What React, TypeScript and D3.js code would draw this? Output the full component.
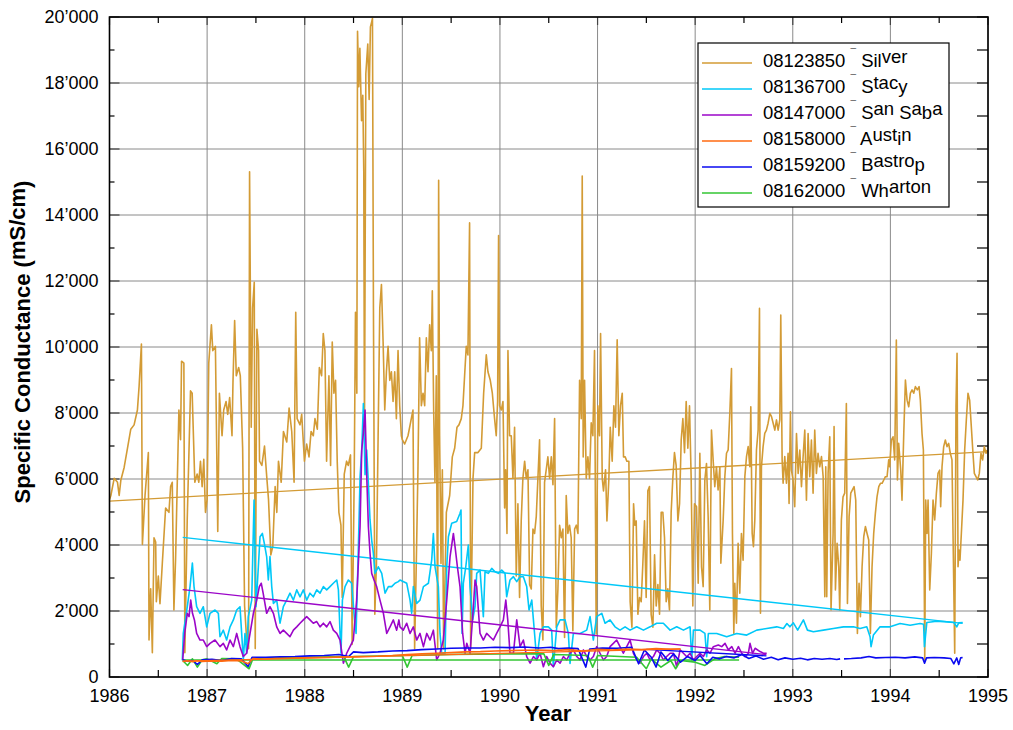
import React from "react";
import * as d3 from "d3";

type Pt = [number, number | null];

const xTickYears = [1986, 1987, 1988, 1989, 1990, 1991, 1992, 1993, 1994, 1995];
const yTickValues = [0, 2000, 4000, 6000, 8000, 10000, 12000, 14000, 16000, 18000, 20000];

const seriesCodes = ["08123850", "08136700", "08147000", "08158000", "08159200", "08162000"];
const seriesNames = ["Silver", "Stacy", "San Saba", "Austin", "Bastrop", "Wharton"];
const seriesColors = ["#d39b35", "#00c8f8", "#9b06c8", "#ff6a10", "#0a0af0", "#33c633"];

const silverData: Pt[] = [
  [1986.000,5380],[1986.014,5500],[1986.048,6020],[1986.082,5900],[1986.099,5500],[1986.116,5960],[1986.150,6350],[1986.184,6930],[1986.218,7510],[1986.252,7640],[1986.286,8090],[1986.303,8800],[1986.327,10090],[1986.337,4020],[1986.364,5500],[1986.398,6800],[1986.405,1120],[1986.422,2670],[1986.439,735],[1986.456,4220],[1986.473,4090],[1986.480,2280],[1986.500,3060],[1986.517,2220],[1986.541,3440],[1986.575,5120],[1986.609,4990],[1986.626,5770],[1986.643,5900],[1986.660,2030],[1986.677,3570],[1986.687,4930],[1986.711,8090],[1986.728,7190],[1986.738,9570],[1986.762,9510],[1986.772,735],[1986.796,4730],[1986.830,8670],[1986.847,8600],[1986.874,5900],[1986.898,6150],[1986.915,5900],[1986.932,6540],[1986.949,5770],[1986.966,6600],[1986.983,4990],
  [1987.000,5380],[1987.017,9510],[1987.044,10670],[1987.058,9890],[1987.085,10020],[1987.109,4410],[1987.126,8600],[1987.153,7310],[1987.170,8090],[1987.194,8350],[1987.211,7960],[1987.231,8470],[1987.255,7310],[1987.265,8930],[1987.282,10800],[1987.299,9130],[1987.323,9380],[1987.340,9130],[1987.364,6930],[1987.384,2150],[1987.408,990],[1987.425,860],[1987.435,15310],[1987.452,7570],[1987.466,11180],[1987.483,11960],[1987.493,860],[1987.510,10540],[1987.527,9890],[1987.537,6540],[1987.561,6410],[1987.588,7000],[1987.612,6020],[1987.629,5380],[1987.653,3700],[1987.673,3960],[1987.697,5770],[1987.714,4990],[1987.731,6540],[1987.759,5900],[1987.782,7440],[1987.816,7120],[1987.840,8150],[1987.867,7440],[1987.891,5900],[1987.908,11050],[1987.922,7830],[1987.952,7640],[1987.969,7960],[1987.997,6540],
  [1988.020,7060],[1988.044,6670],[1988.065,7440],[1988.088,7310],[1988.105,7830],[1988.129,7510],[1988.150,9380],[1988.173,9130],[1988.190,10410],[1988.207,9890],[1988.224,6540],[1988.248,9130],[1988.265,6410],[1988.282,10150],[1988.299,8600],[1988.316,8990],[1988.333,6540],[1988.350,4990],[1988.371,4600],[1988.384,2410],[1988.405,6150],[1988.429,6540],[1988.446,6410],[1988.469,6730],[1988.486,990],[1988.507,6020],[1988.520,11050],[1988.534,8600],[1988.541,19570],[1988.554,17890],[1988.565,19050],[1988.582,16860],[1988.595,17630],[1988.605,15310],[1988.612,7310],[1988.626,18280],[1988.646,19180],[1988.660,17500],[1988.673,19700],[1988.684,19830],[1988.694,19960],[1988.704,11180],[1988.718,1900],[1988.735,3440],[1988.752,7310],[1988.769,11180],[1988.786,11890],[1988.803,10150],[1988.820,8090],[1988.837,9250],[1988.854,10020],[1988.871,8990],[1988.888,9250],[1988.905,8350],[1988.922,9250],[1988.939,7830],[1988.956,9890],[1988.973,8220],[1988.990,7310],
  [1989.000,7190],[1989.024,7060],[1989.058,7310],[1989.092,7830],[1989.109,8090],[1989.126,860],[1989.143,3440],[1989.160,6280],[1989.177,10280],[1989.195,8220],[1989.212,8600],[1989.229,8220],[1989.246,10280],[1989.263,9250],[1989.280,10670],[1989.297,9890],[1989.307,11700],[1989.321,8090],[1989.334,5900],[1989.348,9130],[1989.362,860],[1989.372,15050],[1989.382,7310],[1989.396,3440],[1989.410,6280],[1989.423,860],[1989.451,4990],[1989.485,5500],[1989.512,6670],[1989.536,6930],[1989.560,7570],[1989.580,7640],[1989.604,7830],[1989.621,8220],[1989.638,9130],[1989.655,10020],[1989.672,9760],[1989.689,13760],[1989.700,860],[1989.724,6020],[1989.741,6800],[1989.775,6800],[1989.809,6930],[1989.833,8600],[1989.860,9760],[1989.877,9250],[1989.901,8990],[1989.922,8600],[1989.945,7830],[1989.962,7310],[1989.976,8350],[1989.986,13380],[1989.997,8220],
  [1990.014,8090],[1990.031,8350],[1990.048,5120],[1990.058,6280],[1990.072,4350],[1990.082,9890],[1990.099,7310],[1990.116,7310],[1990.133,6020],[1990.150,7570],[1990.167,3060],[1990.184,5250],[1990.201,2410],[1990.218,4730],[1990.235,6020],[1990.253,6540],[1990.270,6020],[1990.287,6280],[1990.304,2800],[1990.321,2670],[1990.338,4480],[1990.355,4350],[1990.372,4860],[1990.389,6020],[1990.406,7190],[1990.423,2150],[1990.440,1120],[1990.457,5900],[1990.474,6280],[1990.491,6670],[1990.509,6020],[1990.526,6670],[1990.543,5830],[1990.560,7830],[1990.577,1500],[1990.594,2670],[1990.611,4600],[1990.628,4220],[1990.645,4480],[1990.662,1200],[1990.679,5500],[1990.696,4350],[1990.713,4600],[1990.730,4220],[1990.747,1400],[1990.765,4480],[1990.782,4600],[1990.799,4350],[1990.816,8990],[1990.833,7830],[1990.843,15180],[1990.853,6670],[1990.867,8990],[1990.884,6020],[1990.901,6670],[1990.918,6020],[1990.935,7700],[1990.952,7310],[1990.969,9890],[1990.986,1300],
  [1991.003,8220],[1991.020,7310],[1991.031,10410],[1991.048,6020],[1991.061,5640],[1991.082,6280],[1991.096,4730],[1991.116,6020],[1991.130,7570],[1991.150,6540],[1991.167,8220],[1991.184,7570],[1991.201,10220],[1991.218,7310],[1991.235,8220],[1991.253,8600],[1991.266,6670],[1991.283,6670],[1991.300,6540],[1991.321,6540],[1991.334,2280],[1991.352,1510],[1991.369,5250],[1991.382,4600],[1991.396,4730],[1991.413,1900],[1991.430,2410],[1991.447,2280],[1991.464,3440],[1991.481,4730],[1991.498,2410],[1991.515,5640],[1991.532,5770],[1991.549,1900],[1991.567,1510],[1991.584,3700],[1991.601,2150],[1991.618,2800],[1991.635,1900],[1991.652,4990],[1991.669,4990],[1991.686,4220],[1991.703,2280],[1991.720,2670],[1991.737,2030],[1991.754,4990],[1991.771,6020],[1991.788,6800],[1991.805,6410],[1991.823,4730],[1991.840,5250],[1991.857,7190],[1991.874,7830],[1991.891,6800],[1991.908,8350],[1991.925,6930],[1991.942,8220],[1991.959,6020],[1991.976,2150],[1991.993,5250],
  [1992.014,5160],[1992.031,2840],[1992.048,6780],[1992.065,3340],[1992.082,2740],[1992.099,5970],[1992.116,6470],[1992.133,4860],[1992.150,2030],[1992.167,7480],[1992.184,6580],[1992.201,5770],[1992.218,6370],[1992.235,5670],[1992.253,6370],[1992.263,3450],[1992.287,4760],[1992.304,6070],[1992.321,6780],[1992.338,6880],[1992.355,7990],[1992.372,9350],[1992.382,4350],[1992.396,1320],[1992.406,2840],[1992.423,1630],[1992.440,4050],[1992.457,2540],[1992.474,4350],[1992.491,3540],[1992.509,6070],[1992.526,6680],[1992.543,6980],[1992.560,6370],[1992.570,8190],[1992.584,4350],[1992.597,3950],[1992.611,4760],[1992.628,6880],[1992.645,7480],[1992.659,11170],[1992.669,1930],[1992.679,6370],[1992.696,6980],[1992.713,7380],[1992.730,7480],[1992.747,7690],[1992.765,7990],[1992.782,7890],[1992.799,7690],[1992.816,7480],[1992.833,7790],[1992.850,7480],[1992.867,7790],[1992.877,10970],[1992.891,6580],[1992.901,5870],[1992.918,6680],[1992.935,5870],[1992.952,6780],[1992.962,5260],[1992.976,8040],[1992.986,6270],
  [1993.003,5970],[1993.020,5160],[1993.038,7380],[1993.055,6170],[1993.072,6880],[1993.089,5770],[1993.106,6680],[1993.123,7480],[1993.140,5360],[1993.157,7380],[1993.174,6070],[1993.191,7180],[1993.208,5570],[1993.225,7480],[1993.242,6170],[1993.259,6780],[1993.276,6370],[1993.294,6680],[1993.311,6070],[1993.328,2430],[1993.338,6370],[1993.348,2430],[1993.362,6170],[1993.379,7280],[1993.392,2030],[1993.413,4350],[1993.423,7590],[1993.437,2640],[1993.454,4050],[1993.471,3340],[1993.481,2030],[1993.498,4760],[1993.515,5460],[1993.532,5570],[1993.549,8290],[1993.560,2230],[1993.577,4860],[1993.594,5570],[1993.611,5670],[1993.628,5770],[1993.645,5360],[1993.662,1320],[1993.679,2840],[1993.693,1830],[1993.710,3340],[1993.727,4250],[1993.744,4560],[1993.761,4350],[1993.778,4150],[1993.795,1320],[1993.812,3340],[1993.829,4350],[1993.846,4960],[1993.863,5460],[1993.881,5770],[1993.898,5870],[1993.915,5870],[1993.932,5970],[1993.949,6070],[1993.966,6070],[1993.983,6580],[1993.993,6370],
  [1994.010,7180],[1994.027,7280],[1994.044,6580],[1994.061,10210],[1994.072,5970],[1994.085,7080],[1994.106,6270],[1994.119,5360],[1994.137,7380],[1994.154,9000],[1994.171,8390],[1994.188,8190],[1994.205,8600],[1994.222,8700],[1994.239,8600],[1994.256,8800],[1994.276,8700],[1994.294,8800],[1994.307,8390],[1994.324,7380],[1994.338,6880],[1994.352,515],[1994.362,5360],[1994.375,4350],[1994.386,5360],[1994.403,2640],[1994.420,3750],[1994.437,5360],[1994.454,4760],[1994.471,5570],[1994.488,6170],[1994.505,6270],[1994.515,5160],[1994.529,6370],[1994.546,6980],[1994.563,7180],[1994.580,6980],[1994.597,7080],[1994.614,6780],[1994.631,6580],[1994.645,3650],[1994.659,720],[1994.672,8190],[1994.683,9810],[1994.693,3340],[1994.703,3850],[1994.713,3540],[1994.727,4350],[1994.744,5360],[1994.761,6880],[1994.778,7790],[1994.795,8600],[1994.812,8390],[1994.829,7590],[1994.846,6780],[1994.860,6170],[1994.877,6070],[1994.894,5970],[1994.911,6170],[1994.928,6780],[1994.945,6580],[1994.962,6980],[1994.980,6780],[1994.990,6880]
];

const stacyData: Pt[] = [
  [1986.746,510],[1986.756,1320],[1986.797,2130],[1986.825,2740],[1986.849,3450],[1986.866,2740],[1986.893,2130],[1986.927,1930],[1986.961,2130],[1986.996,1520],[1987.030,1930],[1987.081,2030],[1987.115,1930],[1987.132,1220],[1987.166,1420],[1987.200,1120],[1987.235,1520],[1987.269,1730],[1987.303,2030],[1987.337,2130],[1987.354,1320],[1987.371,515],[1987.388,1320],[1987.405,720],[1987.422,1830],[1987.457,2330],[1987.481,5360],[1987.501,2130],[1987.525,3340],[1987.542,4250],[1987.566,4350],[1987.586,4050],[1987.610,3650],[1987.627,2940],[1987.644,3650],[1987.662,2740],[1987.679,2230],[1987.713,2330],[1987.747,1630],[1987.781,2130],[1987.815,2330],[1987.849,2540],[1987.884,2330],[1987.918,2640],[1987.952,2430],[1987.986,2640],
  [1988.020,2330],[1988.054,2540],[1988.088,2430],[1988.123,2640],[1988.157,2540],[1988.191,2740],[1988.225,2640],[1988.259,2740],[1988.293,2840],[1988.328,2940],[1988.345,2640],[1988.362,1320],[1988.372,720],[1988.386,2330],[1988.413,2740],[1988.447,2940],[1988.481,2840],[1988.505,1930],[1988.526,1320],[1988.549,3850],[1988.567,6070],[1988.584,6880],[1988.601,8290],[1988.618,6130],[1988.635,6880],[1988.652,5870],[1988.669,4760],[1988.686,4150],[1988.703,3750],[1988.720,3140],[1988.754,3340],[1988.789,3140],[1988.823,2540],[1988.857,2740],[1988.891,2740],[1988.925,2840],[1988.959,2890],
  [1988.976,2940],[1989.045,2840],[1989.079,2330],[1989.096,1930],[1989.113,2740],[1989.147,2230],[1989.181,2330],[1989.216,2740],[1989.267,2840],[1989.301,3550],[1989.318,4350],[1989.335,3340],[1989.369,2740],[1989.386,1320],[1989.403,720],[1989.438,720],[1989.455,3340],[1989.472,4250],[1989.506,4660],[1989.557,4710],[1989.591,4960],[1989.601,5060],[1989.612,1320],[1989.625,2840],[1989.650,3340],[1989.676,4000],[1989.693,2740],[1989.721,1730],[1989.745,2130],[1989.762,3140],[1989.796,3240],[1989.830,1830],[1989.847,3190],[1989.881,3140],[1989.916,3290],[1989.950,3190],[1989.984,3140],
  [1990.018,3240],[1990.052,3140],[1990.069,2430],[1990.103,2940],[1990.138,3040],[1990.172,2890],[1990.206,3040],[1990.240,3040],[1990.274,2740],[1990.298,2030],[1990.326,2330],[1990.343,1730],[1990.360,1120],[1990.377,515],[1990.411,1320],[1990.445,1520],[1990.496,1520],[1990.530,1420],[1990.547,310],[1990.582,1520],[1990.616,1730],[1990.667,1730],[1990.701,1320],[1990.718,410],[1990.752,1320],[1990.821,1320],[1990.889,1420],[1990.923,1830],[1990.957,1120],[1990.991,1830],
  [1991.043,1930],[1991.077,1630],[1991.128,1730],[1991.179,1520],[1991.230,1420],[1991.282,1520],[1991.333,1420],[1991.401,1520],[1991.470,1420],[1991.538,1520],[1991.606,1630],[1991.674,1630],[1991.743,1420],[1991.811,1520],[1991.880,1420],[1991.948,1520],[1991.965,515],[1991.982,1420],
  [1992.050,1420],[1992.100,1320],[1992.118,615],[1992.135,1320],[1992.221,1320],[1992.323,1220],[1992.426,1320],[1992.528,1270],[1992.631,1420],[1992.733,1470],[1992.836,1520],[1992.904,1470],[1992.940,1620],[1992.970,1520],
  [1993.006,1640],[1993.050,1420],[1993.109,1730],[1993.150,1420],[1993.211,1370],[1993.314,1420],[1993.416,1470],[1993.519,1520],[1993.621,1520],[1993.689,1470],[1993.758,1520],[1993.792,1220],[1993.802,920],[1993.826,1270],[1993.894,1520],[1993.997,1520],
  [1994.099,1620],[1994.202,1570],[1994.304,1620],[1994.340,1600],[1994.349,920],[1994.373,1650],[1994.475,1690],[1994.578,1670],[1994.650,1650],[1994.680,1520],[1994.700,1640],[1994.741,1650]
];

const sanSabaData: Pt[] = [
  [1986.750,515],[1986.770,1320],[1986.797,1930],[1986.815,1830],[1986.832,2330],[1986.850,1930],[1986.870,1730],[1986.893,1320],[1986.927,1120],[1986.961,1120],[1986.996,920],[1987.030,1020],[1987.081,1120],[1987.132,920],[1987.166,1020],[1987.200,820],[1987.235,1120],[1987.269,920],[1987.303,1320],[1987.337,920],[1987.371,620],[1987.405,720],[1987.440,1320],[1987.474,1930],[1987.508,2330],[1987.535,2740],[1987.555,2840],[1987.574,2540],[1987.610,1930],[1987.644,2130],[1987.679,1930],[1987.713,1520],[1987.747,1320],[1987.781,1420],[1987.815,1320],[1987.849,1220],[1987.884,1420],[1987.918,1520],[1987.952,1630],[1987.986,1730],
  [1988.020,1830],[1988.054,1730],[1988.088,1630],[1988.123,1680],[1988.157,1520],[1988.191,1630],[1988.225,1520],[1988.259,1680],[1988.293,1420],[1988.328,1320],[1988.362,1120],[1988.396,420],[1988.430,720],[1988.464,920],[1988.498,1120],[1988.532,2330],[1988.567,4560],[1988.584,6880],[1988.601,7400],[1988.618,8090],[1988.635,6130],[1988.652,4560],[1988.669,3750],[1988.686,3140],[1988.710,2940],[1988.737,2740],[1988.771,2330],[1988.806,1930],[1988.840,1320],[1988.874,1520],[1988.908,1730],[1988.942,1420],[1988.965,1730],
  [1988.976,1520],[1989.010,1420],[1989.045,1630],[1989.079,1320],[1989.113,1520],[1989.147,1120],[1989.181,1320],[1989.216,920],[1989.250,1320],[1989.284,1120],[1989.318,1420],[1989.352,515],[1989.386,720],[1989.420,1120],[1989.455,2330],[1989.489,3650],[1989.523,4350],[1989.540,3950],[1989.564,3340],[1989.591,2740],[1989.618,1320],[1989.642,720],[1989.660,1020],[1989.694,720],[1989.728,2130],[1989.745,2940],[1989.762,2740],[1989.796,1320],[1989.830,1120],[1989.864,1320],[1989.898,1220],[1989.932,1120],[1989.966,1320],
  [1990.001,1520],[1990.035,1730],[1990.060,2330],[1990.080,1730],[1990.103,720],[1990.138,720],[1990.172,1730],[1990.206,920],[1990.240,1120],[1990.274,620],[1990.309,420],[1990.343,620],[1990.377,515],[1990.411,720],[1990.445,310],[1990.479,620],[1990.513,420],[1990.547,310],[1990.582,515],[1990.616,420],[1990.650,620],[1990.684,515],[1990.718,720],[1990.752,820],[1990.787,620],[1990.821,515],[1990.855,820],[1990.889,620],[1990.923,515],[1990.957,620],[1990.991,920],
  [1991.025,720],[1991.060,515],[1991.094,620],[1991.128,920],[1991.162,1020],[1991.196,1120],[1991.230,920],[1991.264,720],[1991.299,920],[1991.333,1120],[1991.367,720],[1991.401,515],[1991.435,420],[1991.470,620],[1991.504,720],[1991.538,515],[1991.572,620],[1991.606,820],[1991.640,720],[1991.674,515],[1991.708,620],[1991.743,720],[1991.777,720],[1991.811,310],[1991.846,820],[1991.880,720],[1991.914,615],[1991.948,720],[1991.982,515],
  [1992.016,620],[1992.050,720],[1992.084,620],[1992.118,820],[1992.152,720],[1992.186,920],[1992.237,970],[1992.272,920],[1992.306,1020],[1992.340,820],[1992.375,920],[1992.409,720],[1992.443,920],[1992.477,720],[1992.511,615],[1992.545,720],[1992.562,1020],[1992.588,720],[1992.614,870],[1992.665,770],[1992.700,720],[1992.733,720]
];

const austinData: Pt[] = [
  [1986.75,470],[1986.80,490],[1986.85,460],[1986.90,490],[1986.95,470],[1987.05,490],[1987.15,480],[1987.25,500],[1987.35,490],[1987.42,400],[1987.47,560],[1987.55,540],[1987.70,560],[1987.85,570],[1988.00,580],[1988.15,590],[1988.30,600],[1988.45,610],[1988.60,620],[1988.75,630],[1988.90,650],[1989.05,680],[1989.20,700],[1989.35,720],[1989.50,740],[1989.65,760],[1989.80,770],[1989.95,790],[1990.10,800],[1990.25,810],[1990.40,820],[1990.55,800],[1990.70,830],[1990.85,790],[1991.00,840],[1991.15,820],[1991.30,850],[1991.45,830],[1991.60,860],[1991.75,840],[1991.85,850]
];

const bastropData: Pt[] = [
  [1986.75,520],[1986.80,480],[1986.85,500],[1986.90,380],[1986.95,520],[1987.05,540],[1987.15,500],[1987.25,560],[1987.35,550],[1987.42,320],[1987.46,600],[1987.60,600],[1987.75,610],[1987.90,620],[1988.05,640],[1988.20,650],[1988.35,680],[1988.45,620],[1988.50,760],[1988.60,740],[1988.75,760],[1988.90,790],[1989.05,800],[1989.20,830],[1989.35,850],[1989.50,870],[1989.65,880],[1989.80,880],[1989.95,900],[1990.10,890],[1990.25,910],[1990.40,880],[1990.52,900],[1990.60,860],[1990.70,880],[1990.80,860],[1990.88,300],[1990.92,850],[1991.05,880],[1991.20,870],[1991.35,900],[1991.42,400],[1991.48,820],[1991.55,600],[1991.60,300],[1991.65,760],[1991.72,500],[1991.78,700],[1991.85,450],[1991.92,620],[1992.00,500],[1992.05,650],[1992.12,400],[1992.18,600],[1992.25,550],[1992.32,620],[1992.40,580],[1992.48,680],[1992.55,560],[1992.62,640],[1992.70,540],[1992.78,600],[1992.85,520],[1992.92,580],[1993.00,540],[1993.08,570],[1993.15,520],[1993.22,560],[1993.30,540],[1993.38,560],[1993.45,530],[1993.485,550],[1993.50,null],[1993.525,550],[1993.60,560],[1993.70,580],[1993.78,620],[1993.85,580],[1993.95,590],[1994.05,600],[1994.15,580],[1994.25,610],[1994.33,580],[1994.35,420],[1994.37,580],[1994.45,590],[1994.55,580],[1994.62,560],[1994.65,400],[1994.68,580],[1994.70,380],[1994.72,580],[1994.74,590]
];

const whartonData: Pt[] = [
  [1986.75,500],[1986.80,350],[1986.85,550],[1986.90,300],[1986.95,520],[1987.00,550],[1987.10,400],[1987.15,560],[1987.30,550],[1987.43,250],[1987.47,560],[1987.60,580],[1988.00,600],[1988.40,620],[1988.45,300],[1988.50,620],[1989.00,650],[1989.05,300],[1989.10,650],[1989.50,680],[1990.00,700],[1990.45,700],[1990.50,350],[1990.55,680],[1990.90,650],[1990.95,300],[1991.00,650],[1991.40,600],[1991.50,250],[1991.55,550],[1991.65,300],[1991.75,500],[1991.80,250],[1991.85,500],[1992.00,450],[1992.10,350],[1992.20,550],[1992.30,620],[1992.45,600]
];

const silverTrend: Pt[] = [[1986.0, 5330], [1995.0, 6830]];
const stacyTrend: Pt[] = [[1986.75, 4230], [1994.74, 1625]];
const sanSabaTrend: Pt[] = [[1986.75, 2650], [1992.73, 680]];
const austinTrend: Pt[] = [[1986.75, 480], [1991.85, 850]];
const bastropTrend: Pt[] = [[1991.5, 840], [1992.73, 640]];
const whartonTrend: Pt[] = [[1986.75, 515], [1992.45, 515]];

const allData = [silverData, stacyData, sanSabaData, austinData, bastropData, whartonData];
const allTrends = [silverTrend, stacyTrend, sanSabaTrend, austinTrend, bastropTrend, whartonTrend];
const drawOrder = [0, 1, 2, 5, 4, 3];

const W = 1013, H = 730;
const L = 109.5, R = 988, T = 17, B = 677;

const FONT = "'Liberation Sans', Arial, Helvetica, sans-serif";

function styledWord(text: string, raise: number) {
  const up = /[acemnorstuvwxz]/;
  const parts: { s: string; u: boolean }[] = [];
  for (const ch of text) {
    const u = up.test(ch);
    if (parts.length && parts[parts.length - 1].u === u) parts[parts.length - 1].s += ch;
    else parts.push({ s: ch, u });
  }
  let cur = 0;
  const out = parts.map((p, i) => {
    const target = p.u ? -raise : 0;
    const dy = target - cur;
    cur = target;
    return <tspan key={i} dy={dy}>{p.s}</tspan>;
  });
  return out;
}

export default function App() {
  const x = d3.scaleLinear().domain([1986, 1995]).range([L, R]);
  const y = d3.scaleLinear().domain([0, 20000]).range([B, T]);
  const line = d3
    .line<Pt>()
    .defined((d) => d[1] !== null)
    .x((d) => x(d[0]))
    .y((d) => y(d[1] as number));

  const fmt = (v: number) => d3.format(",")(v).replace(/,/g, "\u2019");
  const halfYears = d3.range(1986.5, 1995, 1);
  const minorY = d3.range(1000, 20000, 2000);

  const legX = 698, legY = 43, legW = 251, legH = 164;
  const rowY0 = 63, rowStep = 26;

  return (
    <svg width={W} height={H} style={{ position: "absolute", left: 0, top: 0, background: "#fff" }} fontFamily={FONT}>
      <rect x={0} y={0} width={W} height={H} fill="#fff" />
      {/* grid */}
      {xTickYears.map((t) => (
        <line key={"gx" + t} x1={x(t)} x2={x(t)} y1={T} y2={B} stroke="#8a8a8a" strokeWidth={1} />
      ))}
      {yTickValues.map((v) => (
        <line key={"gy" + v} x1={L} x2={R} y1={y(v)} y2={y(v)} stroke="#8a8a8a" strokeWidth={1} />
      ))}
      {/* ticks */}
      {halfYears.map((t) => (
        <g key={"hx" + t}>
          <line x1={x(t)} x2={x(t)} y1={B} y2={B - 7} stroke="#000" strokeWidth={1.2} />
          <line x1={x(t)} x2={x(t)} y1={T} y2={T + 6} stroke="#000" strokeWidth={1.2} />
        </g>
      ))}
      {xTickYears.map((t) => (
        <g key={"mx" + t}>
          <line x1={x(t)} x2={x(t)} y1={B} y2={B - 8} stroke="#444" strokeWidth={1.2} />
          <line x1={x(t)} x2={x(t)} y1={T} y2={T + 8} stroke="#444" strokeWidth={1.2} />
        </g>
      ))}
      {minorY.map((v) => (
        <g key={"my" + v}>
          <line x1={L} x2={L + 5} y1={y(v)} y2={y(v)} stroke="#000" strokeWidth={1.2} />
          <line x1={R} x2={R - 11} y1={y(v)} y2={y(v)} stroke="#000" strokeWidth={1.2} />
        </g>
      ))}
      {yTickValues.map((v) => (
        <g key={"ty" + v}>
          <line x1={L} x2={L + 10} y1={y(v)} y2={y(v)} stroke="#444" strokeWidth={1.2} />
          <line x1={R} x2={R - 11} y1={y(v)} y2={y(v)} stroke="#222" strokeWidth={1.2} />
        </g>
      ))}
      {/* data */}
      {drawOrder.map((i) => (
        <g key={"s" + i}>
          <path d={line(allData[i]) || ""} fill="none" stroke={seriesColors[i]} strokeWidth={1.6} strokeLinejoin="round" />
          <path d={line(allTrends[i]) || ""} fill="none" stroke={seriesColors[i]} strokeWidth={1.3} />
        </g>
      ))}
      {/* frame */}
      <rect x={L} y={T} width={R - L} height={B - T} fill="none" stroke="#000" strokeWidth={1.6} />
      {/* tick labels */}
      {xTickYears.map((t) => (
        <text key={"lx" + t} x={x(t)} y={702} textAnchor="middle" fontSize={18} fill="#000">{t}</text>
      ))}
      {yTickValues.map((v) => (
        <text key={"ly" + v} x={98.5} y={y(v) + 6} textAnchor="end" fontSize={18} fill="#000">{fmt(v)}</text>
      ))}
      {/* axis titles */}
      <text x={548} y={721} textAnchor="middle" fontSize={22} fontWeight="bold">Year</text>
      <text transform="translate(30,342) rotate(-90)" textAnchor="middle" fontSize={22} fontWeight="bold" style={{ whiteSpace: "pre" }}>
        <tspan>Specific Conductance </tspan>
        <tspan>(</tspan>
        <tspan dy={-5}>mS/cm</tspan>
        <tspan dy={5}>)</tspan>
      </text>
      {/* legend */}
      <rect x={legX} y={legY} width={legW} height={legH} fill="#fff" stroke="#000" strokeWidth={1.2} />
      {seriesNames.map((name, i) => {
        const ry = rowY0 + i * rowStep;
        return (
          <g key={"lg" + i}>
            <line x1={702} x2={752} y1={ry} y2={ry} stroke={seriesColors[i]} strokeWidth={1.6} />
            <text x={763} y={ry + 3.5} fontSize={18.5} fill="#000" style={{ whiteSpace: "pre" }}>
              <tspan>{seriesCodes[i] + " "}</tspan>
              <tspan fontSize={10} dy={-10}>{"\u00AF"}</tspan>
              <tspan fontSize={18.5} dy={10}>{" "}</tspan>
              {styledWord(name, 3.5)}
            </text>
          </g>
        );
      })}
    </svg>
  );
}
